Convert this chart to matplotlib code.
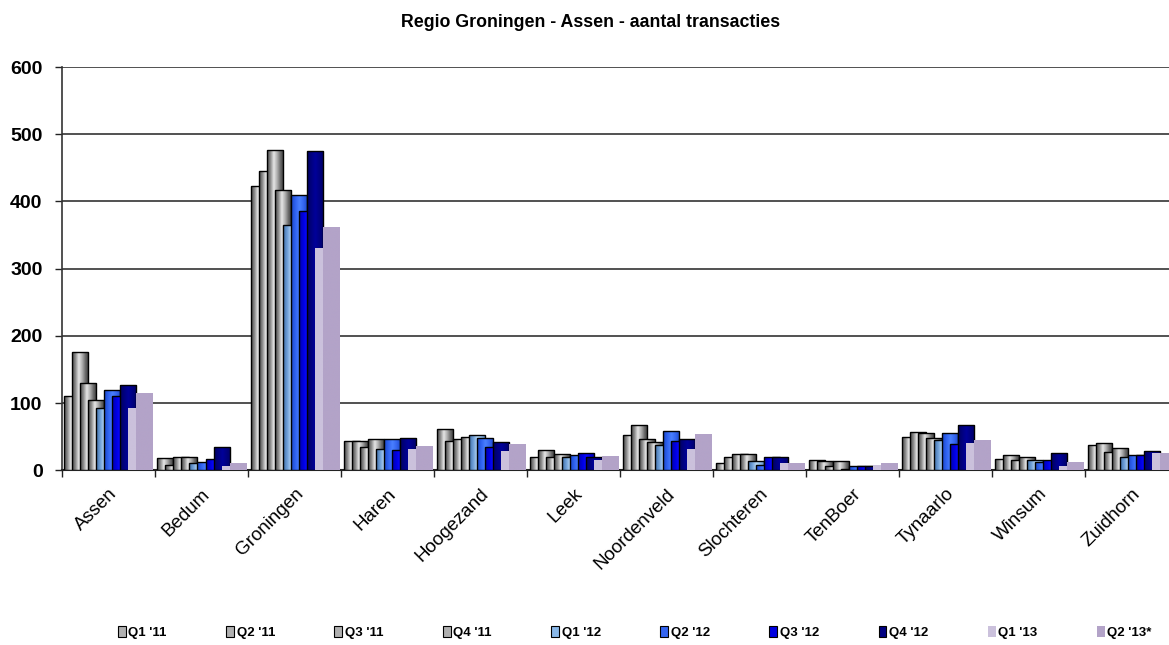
import numpy as np
import matplotlib
matplotlib.use('Agg')
import matplotlib.pyplot as plt
import matplotlib.patches as mpatches
from matplotlib.colors import LinearSegmentedColormap

plt.rcParams['font.family'] = ['Liberation Sans', 'DejaVu Sans']

gemeenten = ['Assen', 'Bedum', 'Groningen', 'Haren', 'Hoogezand', 'Leek',
             'Noordenveld', 'Slochteren', 'TenBoer', 'Tynaarlo', 'Winsum', 'Zuidhorn']
kwartalen = ["Q1 '11", "Q2 '11", "Q3 '11", "Q4 '11", "Q1 '12",
             "Q2 '12", "Q3 '12", "Q4 '12", "Q1 '13", "Q2 '13*"]

# transacties per kwartaal, in volgorde van gemeenten
q1_11 = [111, 18, 423, 44, 61, 19, 53, 11, 15, 50, 16, 37]
q2_11 = [176, 8, 446, 44, 44, 30, 67, 20, 14, 57, 22, 41]
q3_11 = [130, 20, 477, 35, 46, 19, 46, 24, 7, 55, 15, 27]
q4_11 = [105, 20, 417, 46, 50, 24, 42, 24, 14, 48, 19, 33]
q1_12 = [93, 11, 365, 31, 52, 19, 38, 13, 2, 45, 15, 20]
q2_12 = [120, 12, 409, 46, 48, 22, 58, 8, 7, 55, 12, 23]
q3_12 = [111, 16, 386, 30, 35, 26, 43, 20, 7, 39, 15, 22]
q4_12 = [127, 34, 475, 48, 42, 19, 46, 20, 7, 67, 26, 29]
q1_13 = [93, 7, 331, 31, 29, 15, 32, 11, 8, 40, 7, 25]
q2_13 = [115, 11, 362, 36, 39, 21, 54, 11, 11, 45, 12, 25]

reeksen = [q1_11, q2_11, q3_11, q4_11, q1_12, q2_12, q3_12, q4_12, q1_13, q2_13]

# horizontal shading per series (left edge -> highlight -> right edge)
grijs = ['#4a4a4a', '#8a8a8a', '#e6e6e6', '#b0b0b0', '#6a6a6a', '#3a3a3a']
kleuren = [
    grijs, grijs, grijs, grijs,
    ['#3f6fa8', '#6f9fd8', '#b8d8f5', '#8ab8e8', '#5585c0'],
    ['#1a45c8', '#2f62f0', '#4a80ff', '#3565f0', '#1c48c8'],
    ['#0000a8', '#0000e0', '#0a0aff', '#0000e0', '#0000b0'],
    ['#000060', '#000080', '#00009a', '#000080', '#000066'],
    ['#cbc1dc', '#cbc1dc'],
    ['#b3a3c8', '#b3a3c8'],
]
randen = ['black'] * 8 + ['none', 'none']
legenda_kleur = ['#b0b0b0'] * 4 + ['#8ab8e8', '#3565f0', '#0000e0', '#000080',
                                    '#cbc1dc', '#b3a3c8']

fig = plt.figure(figsize=(11.69, 6.45), dpi=100)
ax = fig.add_axes([0.053, 0.271, 0.947, 0.625])

breedte = 0.172
stap = 0.086
x = np.arange(len(gemeenten))
start = 0.5 - (stap * 9 + breedte) / 2
verloop = np.linspace(0, 1, 64).reshape(1, -1)

for j, waarden in enumerate(reeksen):
    cmap = LinearSegmentedColormap.from_list('r%d' % j, kleuren[j])
    z = 3 + j
    links = x + start + j * stap
    staven = ax.bar(links, waarden, width=breedte, align='edge',
                    color=kleuren[j][len(kleuren[j]) // 2], edgecolor='none', zorder=z)
    for s in staven:
        x0, w, h = s.get_x(), s.get_width(), s.get_height()
        im = ax.imshow(verloop, cmap=cmap, extent=[x0, x0 + w, 0, h],
                       aspect='auto', zorder=z + 0.1, interpolation='bilinear')
        im.set_clip_path(s)
    if randen[j] != 'none':
        ax.bar(links, waarden, width=breedte, align='edge', fill=False,
               edgecolor=randen[j], linewidth=1.0, zorder=z + 0.2)

ax.set_xlim(0, 11.9)
ax.set_ylim(0, 600)
ax.set_yticks(range(0, 601, 100))
ax.set_yticklabels([str(v) for v in range(0, 601, 100)], fontsize=14, fontweight='bold')
ax.set_xticks(np.arange(0, 12))
ax.set_xticklabels([])
ax.set_xticks(x + 0.5, minor=True)
ax.set_xticklabels(gemeenten, minor=True, rotation=45, ha='right',
                   rotation_mode='anchor', fontsize=13.5)
ax.tick_params(axis='x', which='minor', length=0, pad=11)
ax.tick_params(axis='x', which='major', length=5, width=1, color='#222222')
ax.tick_params(axis='y', length=5, width=1, color='#222222', pad=9)

ax.grid(axis='y', color='#333333', linewidth=1.2, zorder=0)
ax.set_axisbelow(True)
for side in ['top', 'right']:
    ax.spines[side].set_visible(False)
ax.spines['left'].set_color('#333333')
ax.spines['bottom'].set_color('#222222')
ax.spines['left'].set_linewidth(1.2)
ax.spines['bottom'].set_linewidth(1.5)

fig.text(0.5056, 0.965, 'Regio Groningen - Assen - aantal transacties',
         ha='center', va='center', fontsize=12.8, fontweight='bold')

handles = [mpatches.Patch(facecolor=legenda_kleur[j],
                          edgecolor='black' if j < 8 else 'none',
                          linewidth=0.8, label=kwartalen[j]) for j in range(10)]
fig.legend(handles=handles, loc='center', bbox_to_anchor=(0.543, 0.019), ncol=10,
           frameon=False, prop={'weight': 'bold', 'size': 9.5},
           handlelength=0.6, handleheight=0.8, handletextpad=0.2, columnspacing=4.5)

fig.savefig('out.png', dpi=100)
